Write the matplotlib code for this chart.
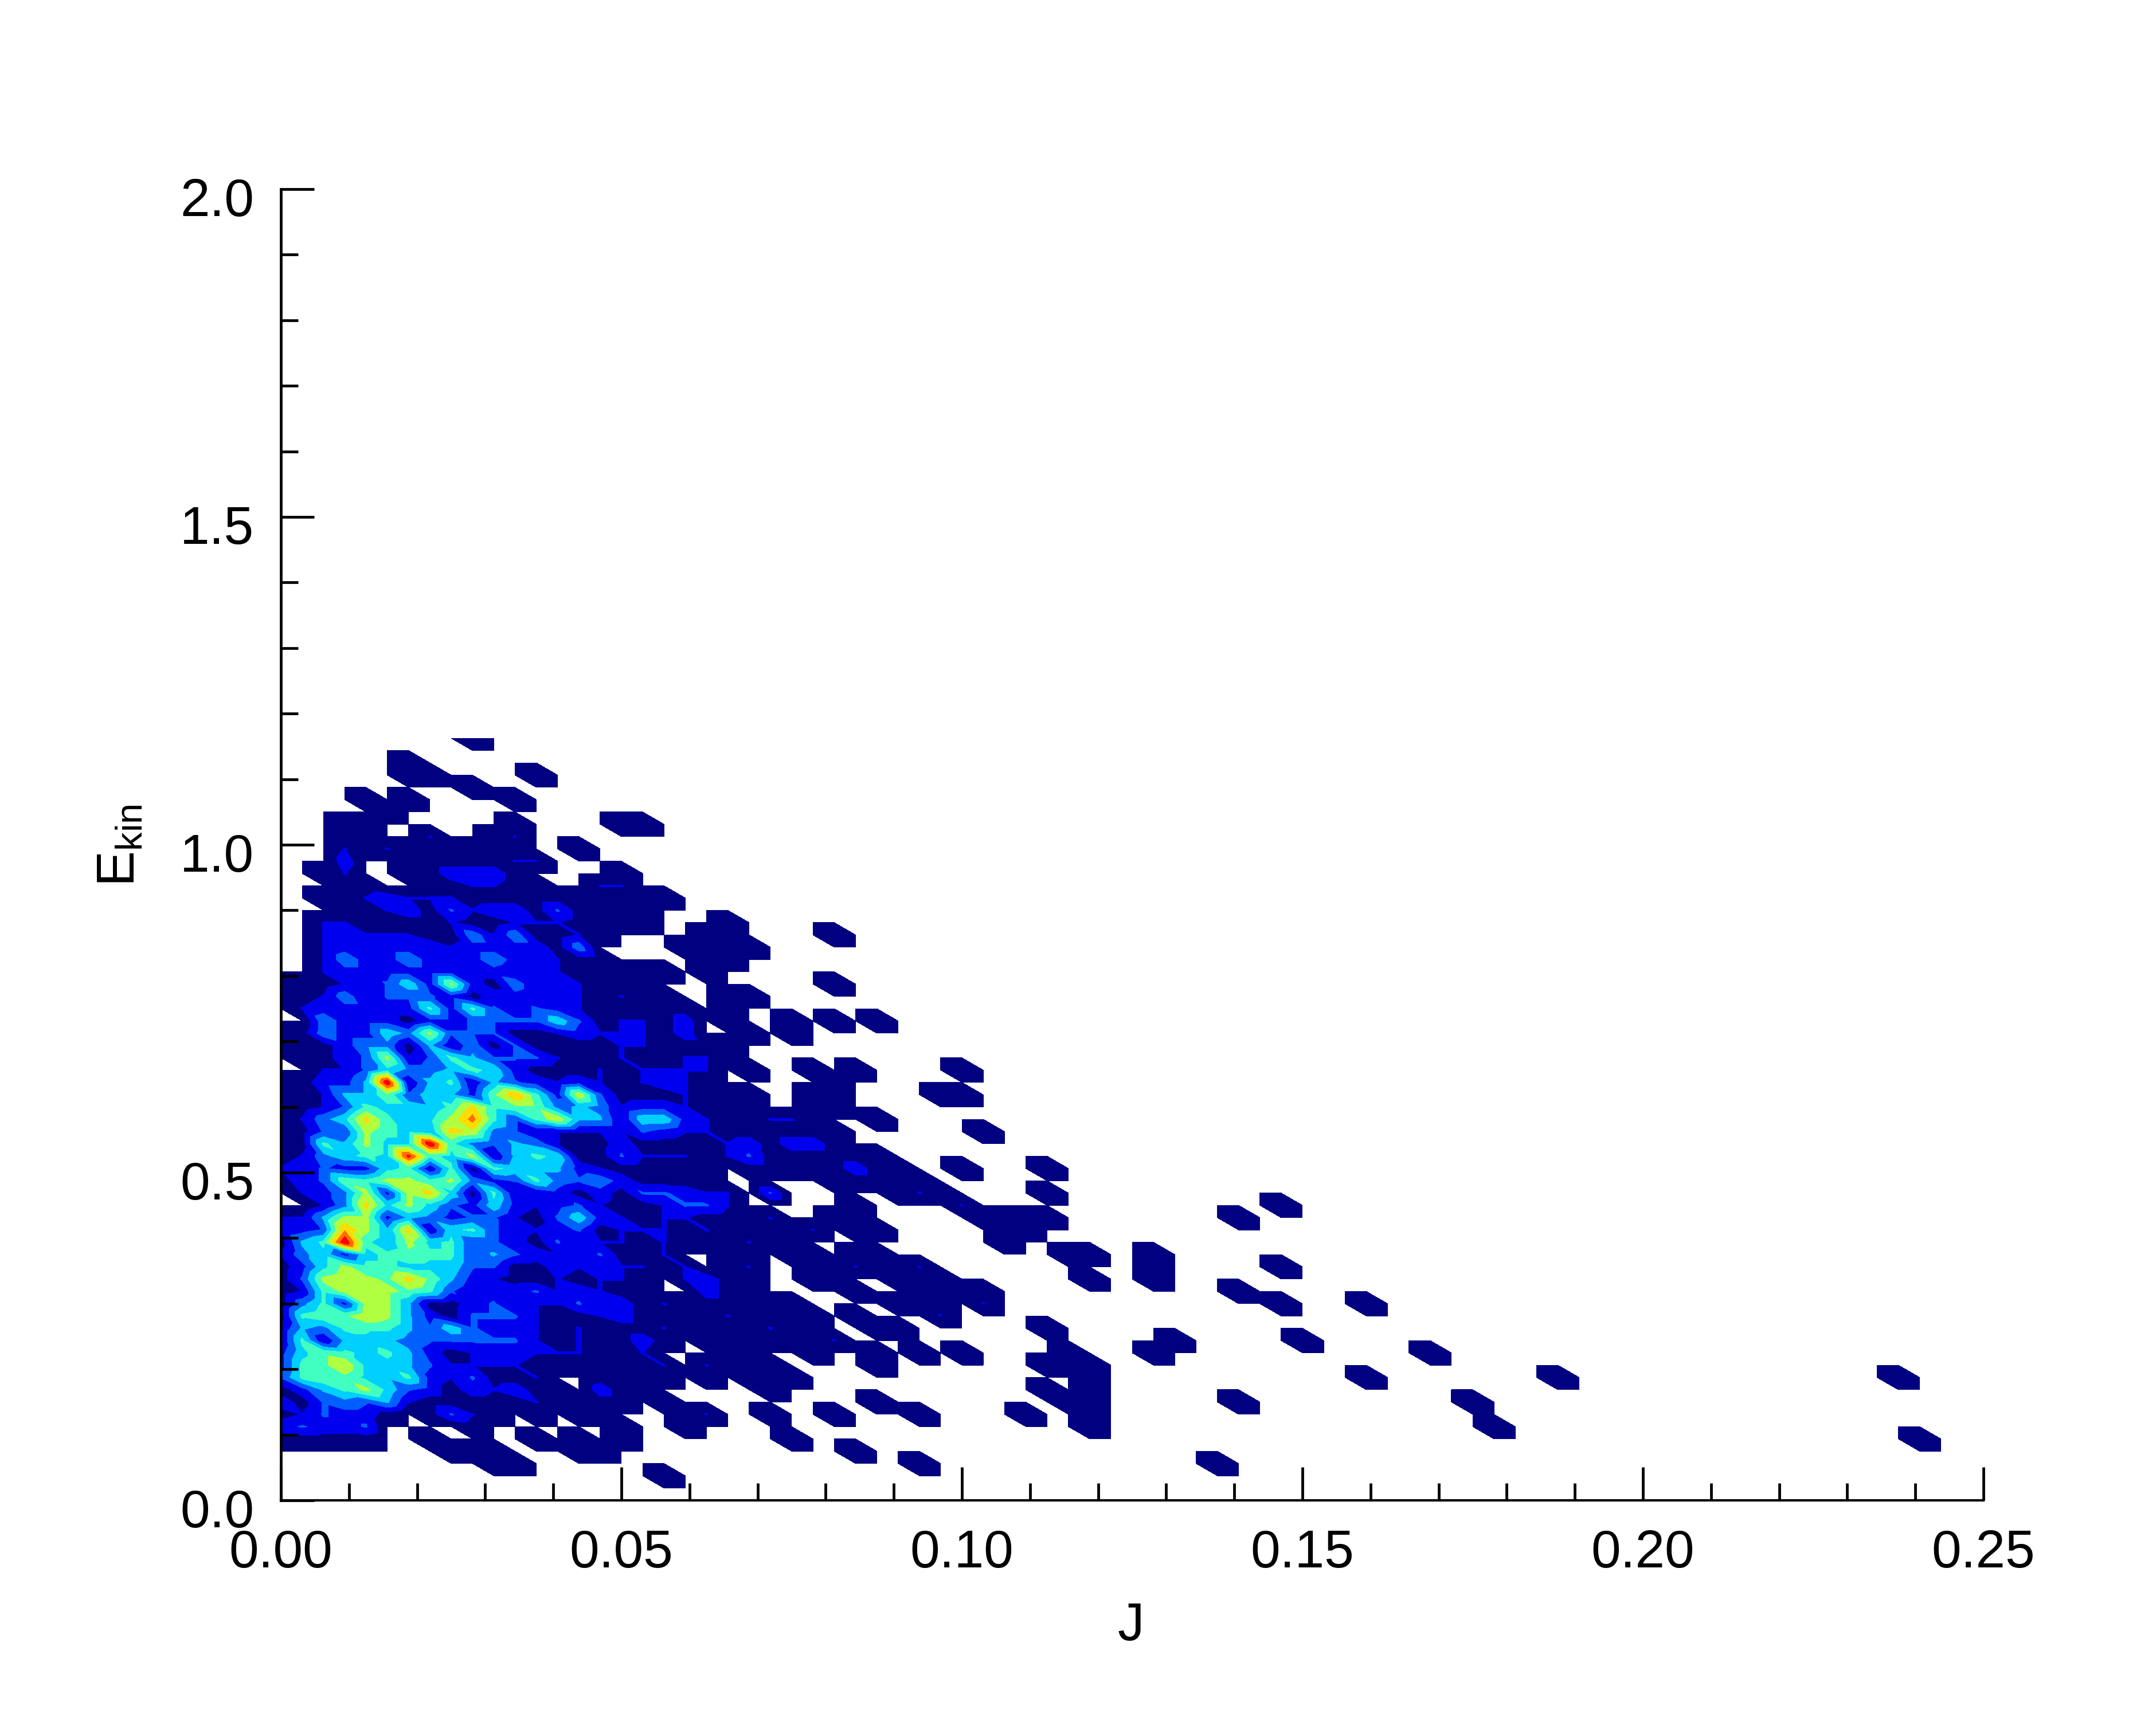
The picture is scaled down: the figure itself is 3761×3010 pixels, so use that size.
import matplotlib
matplotlib.use("Agg")
import matplotlib.pyplot as plt
import matplotlib.tri as mtri
import numpy as np

plt.rcParams['font.family'] = ['Liberation Sans', 'DejaVu Sans']
plt.rcParams['mathtext.default'] = 'regular'

# histogram counts, one string per E bin, base 36 digits, spaces only for reading
top_row = 62
count_rows = [
    "0000000001",  # 62
    "",
    "0000001",
    "0000001100 001",
    "0000000001",
    "0000101000 01",
    "0000010000",
    "0001100000 0100001100",
    "0001100200 12",
    "0002121111 11001",
    "0003001111 122",  # 52
    "0012001133 3100001",
    "0001100112 2110022",
    "0011232221 111111111",
    "0001123142 33141111",
    "0022111121 1222111100 01",
    "0022222115 2511210000 1100001",
    "0023333323 3331500001 111",
    "0025335333 5332110000 11",
    "0023333333 3222111110 1",
    "1112247 3a3 1522211100 0000001",  # 42
    "1125244431 3323212110 011",
    "0233333838 4343211111 01",
    "0053331334 4447412213 010010101",
    "115337 5a44 4112322213 00101",
    "1113551625 1411112211 11",
    "0113 4a2486 4442112112 21",
    "0022475568 7311121222 2010010100 001",
    "1133 6h2682 6432321232 1000001",
    "1126694763 9d83b41112 1110011000 011",
    "112487768c 8995652332 1110011",  # 32
    "1257c867ae 848b662773 211221001",
    "1144a876cb 5422222432 2111111000 0001",
    "1186a77h85 4652113111 1231331",
    "125787g87a 2687114222 124111111",
    "2343378 281 8766321111 1011111311 0010001",
    "1349 8aa8a5 3485453111 1000001111 1",
    "0235a3ac71 8223131443 2204000001 2100001",
    "0025c7a743 7323421124 4200000100 0020000000 00000001",
    "226aa36534 4214732122 1112001100 0001111000 000001",
    "234da6c278 4323412221 2111120110 000011",  # 22
    "168h86a784 4314222121 1121100000 00001",
    "2573789884 6432241120 0110110110 0000000110 01",
    "137a887774 4113222212 0120011211 2000000000 01000001",
    "14aba9c963 2112122102 3110011001 1100000010 01",
    "128aba9842 3342321100 3110000100 1111000000 000001",
    "1583aa6113 4222423121 1111100001 1102000000 0000000100 01",
    "1899ba6314 4421123111 1211110100 02",
    "2658886474 3321211121 1112110011 0000001",
    "2826765444 4421211310 1111112000 0000000000 0010000010",
    "3798786312 3322211200 0110010010 1010000100 0100000000 00001",  # 12
    "389b776422 2211111120 2111000010 0000001110",
    "4899768324 1120011110 1011100000 0000000010 0000000000 0100000000 1000000000 0000001000",
    "1368a74313 2311031100 0001000000 0000001010",
    "3145462111 1121011010 0000000010 0000000110 0000010000 0000001000",
    "1243310142 1010100001 2001001000 1000010010",
    "3433400001 0000001001 0000000000 0000000010 0000000000 0000000100",
    "1111100100 0010101000 0000100000 0000000000 0000000000 0000000000 0000000000 0000000100",
    "0000000011 1000110000 0000000100",
    "0000000000 1100000000 0000000000 1000000000 00001",
    "0000000000 000000001",  # 2
]

x_ticks_major = [0.00, 0.05, 0.10, 0.15, 0.20, 0.25]
x_labels = ['0.00', '0.05', '0.10', '0.15', '0.20', '0.25']
y_ticks_major = [0.0, 0.5, 1.0, 1.5, 2.0]
y_labels = ['0.0', '0.5', '1.0', '1.5', '2.0']

colors = ['#000080', '#0000ee', '#0060ff', '#00d0ff', '#40ffc0',
          '#b0ff40', '#ffdc00', '#ff6e00', '#ff0000']
max_count = 17.0


def build_grid():
    nx, ny = 80, top_row + 1
    z = np.zeros((ny, nx))
    for k, row in enumerate(count_rows):
        s = row.replace(' ', '')
        for i, c in enumerate(s[:nx]):
            z[top_row - k, i] = int(c, 36)
    return z


def build_triangulation(nx, ny):
    # cells are split along the falling diagonal, gives the slanted blobs
    ii, jj = np.meshgrid(np.arange(nx), np.arange(ny))
    x = ii.ravel() * 0.25 / 80
    y = jj.ravel() * 1.5 / 80
    tris = []
    for j in range(ny - 1):
        for i in range(nx - 1):
            a = j * nx + i
            b = a + 1
            d = a + nx
            c = d + 1
            tris.append((a, b, d))
            tris.append((b, c, d))
    return mtri.Triangulation(x, y, np.array(tris))


W, H = 3762, 3010
fig = plt.figure(figsize=(W / 300, H / 300), dpi=300)
ax = fig.add_axes([490 / W, (H - 2618) / H, 2970 / W, 2288 / H])

z = build_grid()
tri = build_triangulation(z.shape[1], z.shape[0])
levels = [1e-3] + [max_count / 9 * k for k in range(1, 9)] + [100]
ax.tricontourf(tri, z.ravel(), levels=levels, colors=colors, antialiased=False)

ax.set_xlim(0, 0.25)
ax.set_ylim(0, 2)
ax.spines['top'].set_visible(False)
ax.spines['right'].set_visible(False)
ax.spines['left'].set_linewidth(1.15)
ax.spines['bottom'].set_linewidth(1.0)
ax.set_xticks(x_ticks_major)
ax.set_yticks(y_ticks_major)
ax.set_xticks(np.arange(0, 0.2501, 0.01), minor=True)
ax.set_yticks(np.arange(0, 2.001, 0.1), minor=True)
ax.tick_params(which='major', direction='in', length=14, width=1.15, labelbottom=False, labelleft=False)
ax.tick_params(which='minor', direction='in', length=7.2, width=1.15)

# tick labels sit a little off the usual place
for v, s in zip(x_ticks_major, x_labels):
    ax.annotate(s, xy=(v, 0), xycoords='data', xytext=(0, -93), textcoords='offset pixels',
                ha='center', va='center', fontsize=22.3, annotation_clip=False)
for v, s in zip(y_ticks_major, y_labels):
    ax.annotate(s, xy=(0, v), xycoords='data', xytext=(-47, -23), textcoords='offset pixels',
                ha='right', va='center', fontsize=22.3, annotation_clip=False)

fig.text(1973 / W, 1 - 2838 / H, 'J', ha='center', va='center', fontsize=22.3)
fig.text(210 / W, 1 - 1475 / H, r'E$_{kin}$', ha='center', va='center', rotation=90, fontsize=22.3)

fig.savefig('out.png', dpi=300)
